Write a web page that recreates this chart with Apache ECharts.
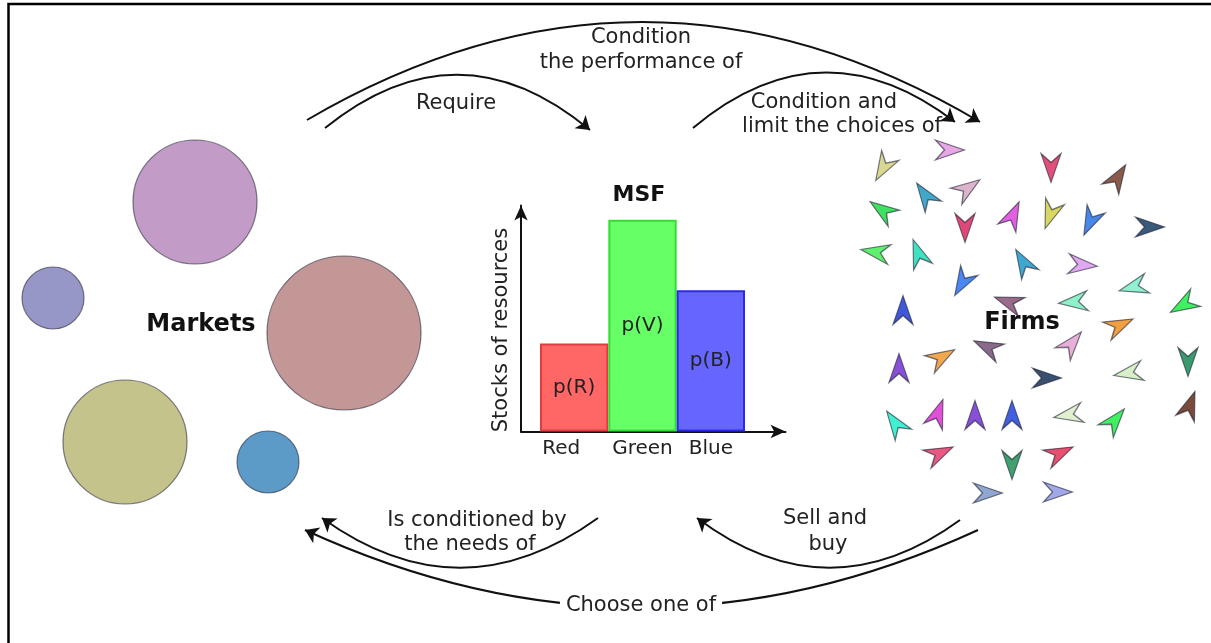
<!DOCTYPE html>
<html><head><meta charset="utf-8">
<script src="https://cdn.jsdelivr.net/npm/echarts@6/dist/echarts.min.js"></script>
<style>html,body{margin:0;padding:0;background:#fff}#c{width:1211px;height:643px}</style>
</head><body><div id="c"></div>
<script>
// ---------- data ----------
const categories = ['Red', 'Green', 'Blue'];
const stocks = [38, 91.5, 61];
const barLabels = ['p(R)', 'p(V)', 'p(B)'];
const barFill = ['#ff6666', '#66ff66', '#6666ff'];
const barEdge = ['#e03c3c', '#33dd33', '#2b2be6'];
const chartTitle = 'MSF';
const axisName = 'Stocks of resources';

// market circles: [x, y, radius, colour]
const marketCircles = [
  [195, 202, 62, '#c29bc6'],
  [53, 298, 31, '#9697c6'],
  [344, 333, 77, '#c49797'],
  [125, 442, 62, '#c4c38b'],
  [268, 462, 31, '#5c9ac8']
];
// firm arrows: [x, y, angle(deg, ccw from up), colour]
const firmArrows = [
  [950,150,-90,'#e8a8e8'],[883,168,150,'#d8d890'],[1051,168,180,'#e0507a'],[1118,177,-32,'#8a5a4a'],
  [925,195,35,'#40a8c8'],[968,188,-55,'#dcb4cc'],[882,210,55,'#40e060'],[965,228,180,'#e04878'],
  [1013,215,-25,'#e060e0'],[1050,215,160,'#d8d860'],[1090,222,155,'#4888e8'],[1150,227,-90,'#3a5a7a'],
  [875,252,80,'#60f070'],[918,253,20,'#40e0c0'],[1023,262,30,'#40a8d0'],[1083,265,-95,'#e0a8f0'],
  [962,283,150,'#4888f0'],[1133,287,105,'#90f0d0'],[1183,305,120,'#40f060'],[1073,302,95,'#90f0c8'],
  [903,310,0,'#4058d8'],[1008,302,70,'#9a6a8a'],[1120,325,-65,'#f0a040'],[1072,343,-40,'#e8b0d8'],
  [987,347,65,'#8a6a8a'],[942,357,-60,'#f0a850'],[899,368,0,'#8850d8'],[1047,378,-90,'#3a5070'],
  [1128,373,100,'#d8f0c8'],[1188,362,180,'#3a9a70'],[1190,405,-20,'#7a4a3a'],[895,423,35,'#40f0d0'],
  [938,413,-20,'#e050d8'],[975,415,0,'#8850d8'],[1012,415,0,'#4060e0'],[1068,415,100,'#e0f0d0'],
  [1115,420,-40,'#40f060'],[940,453,-65,'#e85880'],[1012,465,180,'#40a070'],[1060,453,-65,'#e85070'],
  [988,493,-90,'#90a8d0'],[1058,492,-90,'#a0a8e8']
];
// curved relation arrows: [x1, y1, x2, y2, curveness]
const relationArcs = [
  [307,120, 980,122, 0.294],
  [325,128, 590,130, 0.41],
  [693,128, 955,122, 0.40],
  [978,530, 305,530, 0.23],
  [598,518, 322,518, 0.36],
  [960,520, 697,518, 0.37]
];
// texts: [text, x, y]
const relationTexts = [
  ['Condition', 641, 38], ['the performance of', 641, 63],
  ['Require', 456, 104],
  ['Condition and', 824, 103], ['limit the choices of', 842, 127],
  ['Is conditioned by', 477, 521], ['the needs of', 470, 545],
  ['Sell and', 825, 519], ['buy', 828, 545]
];
const groupTexts = [['Markets', 201, 325], ['Firms', 1022, 323]];

const FONT = '"DejaVu Sans", sans-serif';
const chart = echarts.init(document.getElementById('c'), null, {renderer: 'canvas'});

const graphics = [];
graphics.push({type: 'polyline', z: 200, shape: {points: [[8.5, 643], [8.5, 4], [1211, 4]]},
  style: {stroke: '#000', lineWidth: 2.5, fill: null}});
relationTexts.forEach(t => graphics.push({type: 'text', z: 150, style: {text: t[0], x: t[1], y: t[2],
  font: '21px ' + FONT, fill: '#222', align: 'center', verticalAlign: 'middle'}}));
graphics.push({type: 'text', z: 150, style: {text: 'Choose one of', x: 641, y: 606,
  font: '21px ' + FONT, fill: '#222', align: 'center', verticalAlign: 'middle',
  backgroundColor: '#fff', padding: [2, 6]}});
groupTexts.forEach(t => graphics.push({type: 'text', z: 150, style: {text: t[0], x: t[1], y: t[2],
  font: 'bold 24px ' + FONT, fill: '#111', align: 'center', verticalAlign: 'middle'}}));
graphics.push({type: 'text', z: 150, style: {text: chartTitle, x: 639, y: 195,
  font: 'bold 22px ' + FONT, fill: '#111', align: 'center', verticalAlign: 'middle'}});
graphics.push({type: 'text', z: 150, x: 502, y: 330, rotation: Math.PI / 2, style: {text: axisName, x: 0, y: 0,
  font: '21px ' + FONT, fill: '#222', align: 'center', verticalAlign: 'middle'}});

const option = {
  backgroundColor: '#fff',
  animation: false,
  grid: [
    {left: 540, right: 466, top: 200, bottom: 211.5, outerBoundsMode: 'none'},
    {left: 521, right: 425.5, top: 205.5, bottom: 211.5, outerBoundsMode: 'none'},
    {left: 0, top: 0, width: 1211, height: 643, outerBoundsMode: 'none'}
  ],
  xAxis: [
    {gridIndex: 0, type: 'category', data: categories,
      axisLine: {show: false}, axisTick: {show: false},
      axisLabel: {interval: 0, margin: 7, fontSize: 20, fontFamily: FONT, color: '#222',
        formatter: v => v === 'Red' ? '{r|' + v + '}' : v,
        rich: {r: {fontSize: 20, fontFamily: FONT, color: '#222', padding: [0, 26, 0, 0]}}}},
    {gridIndex: 1, type: 'value', min: 0, max: 1,
      axisLine: {show: true, lineStyle: {color: '#111', width: 2}, symbol: ['none', 'arrow'], symbolSize: [10, 15]},
      axisTick: {show: false}, axisLabel: {show: false}, splitLine: {show: false}},
    {gridIndex: 2, type: 'value', min: 0, max: 1211, show: false}
  ],
  yAxis: [
    {gridIndex: 0, type: 'value', min: 0, max: 100, show: false},
    {gridIndex: 1, type: 'value', min: 0, max: 1,
      axisLine: {show: true, lineStyle: {color: '#111', width: 2}, symbol: ['none', 'arrow'], symbolSize: [10, 15]},
      axisTick: {show: false}, axisLabel: {show: false}, splitLine: {show: false}},
    {gridIndex: 2, type: 'value', min: 0, max: 643, inverse: true, show: false}
  ],
  graphic: graphics,
  series: [
    {type: 'bar', xAxisIndex: 0, yAxisIndex: 0, barCategoryGap: '0%', z: 5,
      data: stocks.map((v, i) => ({value: v,
        itemStyle: {color: barFill[i], borderColor: barEdge[i], borderWidth: 2},
        label: {show: true, position: 'inside', formatter: barLabels[i], fontSize: 20, fontFamily: FONT, color: '#222'}}))},
    {type: 'scatter', xAxisIndex: 2, yAxisIndex: 2, z: 3,
      data: marketCircles.map(c => ({value: [c[0], c[1]], symbolSize: c[2] * 2,
        itemStyle: {color: c[3], borderColor: 'rgba(40,40,60,0.6)', borderWidth: 1.2, opacity: 1}})),
      symbol: 'circle', silent: true},
    {type: 'scatter', xAxisIndex: 2, yAxisIndex: 2, z: 3, silent: true,
      symbol: 'path://M10,0 L20,29 L10,20 L0,29 Z', symbolSize: [20, 29],
      data: firmArrows.map(a => ({value: [a[0], a[1]], symbolRotate: a[2],
        itemStyle: {color: a[3], borderColor: 'rgba(30,30,50,0.6)', borderWidth: 1.3, opacity: 1}}))},
    {type: 'lines', coordinateSystem: 'cartesian2d', xAxisIndex: 2, yAxisIndex: 2, z: 4, silent: true,
      symbol: ['none', 'arrow'], symbolSize: [0, 13],
      lineStyle: {color: '#111', width: 2, opacity: 1},
      data: relationArcs.map(r => ({coords: [[r[0], r[1]], [r[2], r[3]]], lineStyle: {curveness: r[4]}}))}
  ]
};
chart.setOption(option);
</script></body></html>
